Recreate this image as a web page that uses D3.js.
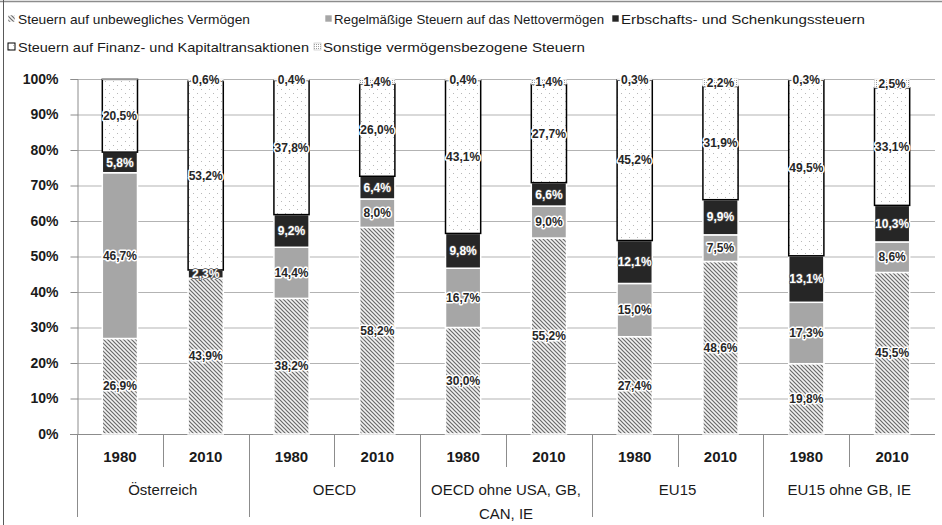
<!DOCTYPE html>
<html><head><meta charset="utf-8">
<script src="https://cdn.jsdelivr.net/npm/d3@7"></script>
<style>
body{margin:0;background:#fff;}
svg{display:block;font-family:"Liberation Sans",Arial,sans-serif;}
</style></head><body>
<svg id="c" width="942" height="525"></svg>
<script>
const groups = [["Österreich"],["OECD"],["OECD ohne USA, GB,","CAN, IE"],["EU15"],["EU15 ohne GB, IE"]];
const years = ["1980","2010"];
const seriesNames = ["Steuern auf unbewegliches Vermögen","Regelmäßige Steuern auf das Nettovermögen","Erbschafts- und Schenkungssteuern","Steuern auf Finanz- und Kapitaltransaktionen","Sonstige vermögensbezogene Steuern"];
const unbeweglich  = [26.9,43.9,38.2,58.2,30.0,55.2,27.4,48.6,19.8,45.5];
const regelmaessig = [46.7,0.0,14.4,8.0,16.7,9.0,15.0,7.5,17.3,8.6];
const erbschaft    = [5.8,2.3,9.2,6.4,9.8,6.6,12.1,9.9,13.1,10.3];
const finanz       = [20.5,53.2,37.8,26.0,43.1,27.7,45.2,31.9,49.5,33.1];
const sonstige     = [0.1,0.6,0.4,1.4,0.4,1.4,0.3,2.2,0.3,2.5];
const yTicks = [0,10,20,30,40,50,60,70,80,90,100];

const svg = d3.select("#c");
const defs = svg.append("defs");
const ph = defs.append("pattern").attr("id","hatch").attr("patternUnits","userSpaceOnUse").attr("width",4).attr("height",4);
ph.append("rect").attr("width",4).attr("height",4).attr("fill","#f2f2f2");
ph.append("path").attr("d","M-1,3 l2,2 M0,0 l4,4 M3,-1 l2,2").attr("stroke","#6a6a6a").attr("stroke-width",1.2);
const pd = defs.append("pattern").attr("id","dots").attr("patternUnits","userSpaceOnUse").attr("width",8).attr("height",8);
pd.append("rect").attr("width",8).attr("height",8).attr("fill","#fff");
pd.append("rect").attr("x",1).attr("y",1).attr("width",1).attr("height",1).attr("fill","#b8b8b8");
pd.append("rect").attr("x",5).attr("y",5).attr("width",1).attr("height",1).attr("fill","#b8b8b8");
const ps = defs.append("pattern").attr("id","sons").attr("patternUnits","userSpaceOnUse").attr("width",2).attr("height",2);
ps.append("rect").attr("width",2).attr("height",2).attr("fill","#fff");
ps.append("rect").attr("width",1).attr("height",1).attr("fill","#9a9a9a");

svg.append("line").attr("x1",0).attr("x2",942).attr("y1",1.5).attr("y2",1.5).attr("stroke","#8c8c8c").attr("stroke-width",1.5);
svg.append("line").attr("x1",3.5).attr("x2",3.5).attr("y1",0).attr("y2",525).attr("stroke","#595959").attr("stroke-width",1);

const x = d3.scaleBand().domain(d3.range(10)).range([77,935]).paddingInner(0.59).paddingOuter(0.295);
const y = d3.scaleLinear().domain([0,100]).range([434,79]);

svg.append("g").selectAll("line").data(yTicks.slice(1)).join("line")
  .attr("x1",77).attr("x2",935).attr("y1",d=>y(d)+0.5).attr("y2",d=>y(d)+0.5)
  .attr("stroke","#b3b3b3").attr("stroke-width",1);

const ya = svg.append("g").attr("transform","translate(77.5,0)")
  .call(d3.axisLeft(y).tickValues(yTicks).tickFormat(d=>d+"%").tickSize(7).tickPadding(12));
ya.select(".domain").attr("stroke","#8c8c8c");
ya.selectAll(".tick line").attr("stroke","#8c8c8c");
ya.selectAll("text").attr("font-size",14).attr("font-weight","bold").attr("fill","#1a1a1a")
  .attr("font-family","'Liberation Sans',Arial,sans-serif");
svg.append("line").attr("x1",70).attr("x2",935).attr("y1",434.5).attr("y2",434.5).attr("stroke","#8c8c8c");

const table = d3.range(10).map(i=>({i, s0:unbeweglich[i], s1:regelmaessig[i], s2:erbschaft[i], s3:finanz[i], s4:sonstige[i]}));
const keys = ["s0","s1","s2","s3","s4"];
const stacked = d3.stack().keys(keys)(table);
const fills = ["url(#hatch)","#a6a6a6","#262626","url(#dots)","url(#sons)"];
const strokes = ["#ffffff","#ffffff","#ffffff","#000000","#d9d9d9"];
const sw = [1.5,1.5,1.5,1.5,0.5];

stacked.forEach((ser,k)=>{
  svg.append("g").selectAll("rect").data(ser.filter(d=>d[1]-d[0]>0)).join("rect")
    .attr("x",d=>x(d.data.i)).attr("width",x.bandwidth())
    .attr("y",d=>y(d[1])).attr("height",d=>y(d[0])-y(d[1]))
    .attr("fill",fills[k]).attr("stroke",strokes[k]).attr("stroke-width",sw[k]);
});
const fmt = v => v.toFixed(1).replace(".",",")+"%";
stacked.forEach((ser,k)=>{
  svg.append("g").selectAll("text").data(ser.filter(d=>d[1]-d[0]>=0.2)).join("text")
    .attr("x",d=>x(d.data.i)+x.bandwidth()/2).attr("y",d=>y((d[0]+d[1])/2))
    .attr("dy","0.35em").attr("text-anchor","middle")
    .attr("font-size",12).attr("font-weight","bold")
    .attr("fill",k===2?"#ffffff":"#262626")
    .attr("stroke",k===2?"#4d4d4d":"#ffffff").attr("stroke-width",k===2?1.5:3).attr("paint-order","stroke")
    .attr("stroke-linejoin","round")
    .text(d=>fmt(d[1]-d[0]));
});

const step = x.step();
const sep = svg.append("g").attr("stroke","#8c8c8c");
d3.range(10).forEach(i=>{
  const xl = 77 + i*step;
  const long = i%2===0;
  sep.append("line").attr("x1",Math.round(xl)+0.5).attr("x2",Math.round(xl)+0.5)
    .attr("y1",434).attr("y2",long?517:467);
});
svg.append("g").selectAll("text").data(d3.range(10)).join("text")
  .attr("x",i=>x(i)+x.bandwidth()/2).attr("y",457).attr("dy","0.35em").attr("text-anchor","middle")
  .attr("font-size",15).attr("font-weight","bold").attr("fill","#1a1a1a")
  .text(i=>years[i%2]);
groups.forEach((lines,g)=>{
  const cx = 77 + (g*2+1)*step;
  lines.forEach((ln,j)=>{
    svg.append("text").attr("x",cx).attr("y",490+j*24).attr("dy","0.35em").attr("text-anchor","middle")
      .attr("font-size",15).attr("fill","#1a1a1a").text(ln);
  });
});

const legendItems = [
  {k:0,x:8,y:19,tx:18,w:232},
  {k:1,x:325,y:19,tx:334,w:270},
  {k:2,x:612,y:19,tx:621,w:244},
  {k:3,x:8,y:47,tx:18,w:291},
  {k:4,x:314,y:47,tx:323,w:262}
];
const lg = svg.append("g");
legendItems.forEach(it=>{
  lg.append("rect").attr("x",it.x).attr("y",it.y-4).attr("width",7).attr("height",7)
    .attr("fill",fills[it.k]).attr("stroke",it.k===3?"#000":(it.k===4?"#bbb":"#fff")).attr("stroke-width",it.k===3?1:0.6);
  lg.append("text").attr("x",it.tx).attr("y",it.y).attr("dy","0.35em")
    .attr("font-size",13.5).attr("fill","#1a1a1a")
    .attr("textLength",it.w).attr("lengthAdjust","spacingAndGlyphs")
    .text(seriesNames[it.k]);
});
</script></body></html>
